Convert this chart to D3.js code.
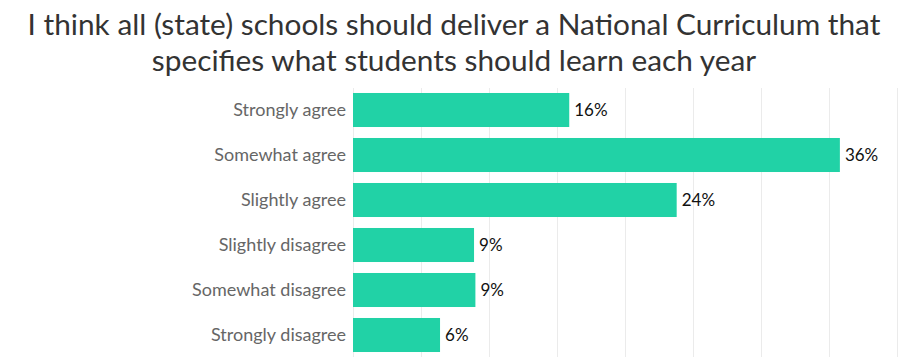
<!DOCTYPE html>
<html><head><meta charset="utf-8">
<script src="https://cdn.jsdelivr.net/npm/d3@7"></script>
<style>html,body{margin:0;padding:0;background:#fff;} svg{display:block;}</style>
</head><body>
<script>
const titleLines = ["I think all (state) schools should deliver a National Curriculum that", "specifies what students should learn each year"];
const categories = ["Strongly agree","Somewhat agree","Slightly agree","Slightly disagree","Somewhat disagree","Strongly disagree"];
const values = [15.9, 35.8, 23.8, 8.9, 9.0, 6.4];
const labels = ["16%","36%","24%","9%","9%","6%"];
const gridTicks = [0,5,10,15,20,25,30,35,40];

const W = 908, H = 357;
const svg = d3.select("body").append("svg").attr("width", W).attr("height", H);
const font = "Lato, 'Open Sans', sans-serif";

const x = d3.scaleLinear().domain([0,40]).range([353,897]);
const y = d3.scaleBand().domain(categories).range([87.5,357.5]).paddingInner(0.244).paddingOuter(0.122);

svg.append("g").selectAll("line").data(gridTicks).join("line")
  .attr("x1", d=>x(d)+0.5).attr("x2", d=>x(d)+0.5)
  .attr("y1", 88).attr("y2", H)
  .attr("stroke", "#ebebeb").attr("stroke-width", 1);

svg.append("g").selectAll("rect").data(values).join("rect")
  .attr("x", x(0)).attr("y", (d,i)=>y(categories[i]))
  .attr("width", d=>x(d)-x(0)).attr("height", y.bandwidth())
  .attr("fill", "#21d2a6");

svg.append("g").selectAll("text").data(values).join("text")
  .attr("x", d=>x(d)+5).attr("y", (d,i)=>y(categories[i])+y.bandwidth()/2)
  .attr("dy", "0.36em")
  .attr("font-family", font).attr("font-size", 17).attr("fill", "#111")
  .text((d,i)=>labels[i]);

svg.append("g").selectAll("text").data(categories).join("text")
  .attr("x", 346).attr("y", d=>y(d)+y.bandwidth()/2)
  .attr("dy", "0.36em").attr("text-anchor", "end")
  .attr("font-family", font).attr("font-size", 18).attr("fill", "#666")
  .text(d=>d);

svg.append("g").selectAll("text").data(titleLines).join("text")
  .attr("x", 454).attr("y", (d,i)=>35+i*36)
  .attr("text-anchor", "middle")
  .attr("font-family", font).attr("font-size", 29.8).attr("fill", "#333")
  .text(d=>d);
</script>
</body></html>
